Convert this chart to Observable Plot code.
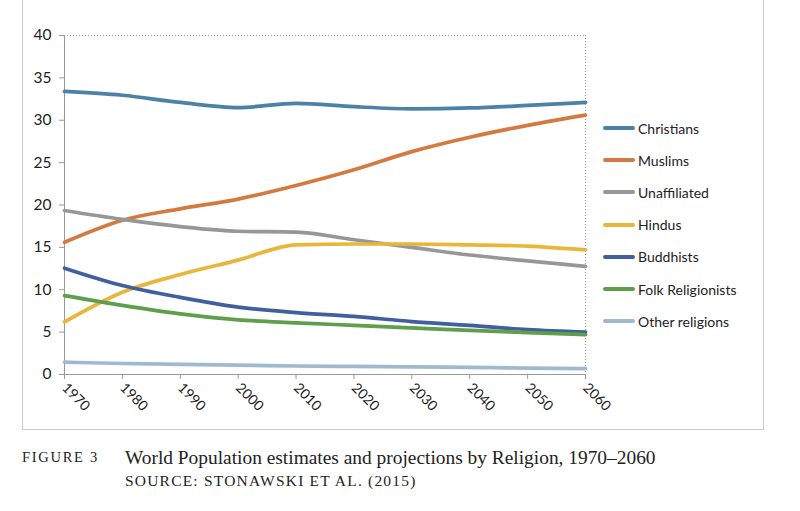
<!DOCTYPE html>
<html><head><meta charset="utf-8">
<script src="https://cdn.jsdelivr.net/npm/d3@7"></script>
<script src="https://cdn.jsdelivr.net/npm/@observablehq/plot@0.6"></script>
<style>
body{margin:0;background:#fff;width:800px;height:511px;position:relative;overflow:hidden;font-family:Lato,"Open Sans",sans-serif}
#frame{position:absolute;left:22px;top:-2px;width:740px;height:431px;border:1.5px solid #cbcbcb;border-top:none;}
#chart{position:absolute;left:0;top:0}
#legend{position:absolute;left:603px;top:112px;font-size:14px;color:#222}
.row{height:32.2px;display:flex;align-items:center}
.sw{display:inline-block;width:32px;height:4px;border-radius:2px;margin-right:3px}
.cap{position:absolute;font-family:"Liberation Serif","DejaVu Serif",serif;color:#222;white-space:nowrap}
</style></head>
<body>
<div id="frame"></div>
<div id="chart"></div>
<div id="legend"></div>
<div class="cap" style="left:22px;top:449px;font-size:14.5px;letter-spacing:1.7px">FIGURE 3</div>
<div class="cap" style="left:125px;top:447px;font-size:19.4px">World Population estimates and projections by Religion, 1970–2060</div>
<div class="cap" style="left:125px;top:472px;font-size:15.5px;letter-spacing:1.2px">SOURCE: STONAWSKI ET AL. (2015)</div>
<script>
const years = [1970,1980,1990,2000,2010,2020,2030,2040,2050,2060];
const yTicks = [0,5,10,15,20,25,30,35,40];
const religions = ["Christians","Muslims","Unaffiliated","Hindus","Buddhists","Folk Religionists","Other religions"];
const colors = ["#4c82a8","#d6793f","#979797","#e8b63a","#3f5f9e","#5f9e4b","#9fbad0"];
const christians    = [33.4,32.95,32.1,31.5,32.0,31.6,31.35,31.45,31.75,32.1];
const muslims       = [15.6,18.2,19.55,20.7,22.3,24.15,26.3,28.0,29.4,30.6];
const unaffiliated  = [19.35,18.3,17.45,16.9,16.8,15.9,15.0,14.1,13.4,12.75];
const hindus        = [6.2,9.7,11.8,13.5,15.3,15.4,15.4,15.3,15.15,14.7];
const buddhists     = [12.55,10.5,9.1,7.95,7.3,6.85,6.25,5.8,5.3,5.0];
const folk          = [9.3,8.15,7.15,6.45,6.1,5.8,5.5,5.2,4.95,4.7];
const other         = [1.45,1.3,1.2,1.1,1.0,0.95,0.9,0.85,0.75,0.7];
const series = [christians,muslims,unaffiliated,hindus,buddhists,folk,other];

const data = [];
series.forEach((vals,i)=>vals.forEach((v,j)=>data.push({religion:religions[i],year:years[j],value:v})));

const chart = Plot.plot({
  width:800, height:430,
  marginLeft:64, marginRight:215, marginTop:35, marginBottom:56,
  style:{fontFamily:"Lato, 'Open Sans', sans-serif", color:"#1e1e1e", background:"transparent"},
  x:{domain:[1970,2060]},
  y:{domain:[0,40]},
  color:{domain:religions, range:colors},
  marks:[
    Plot.ruleY([40],{stroke:"#999",strokeDasharray:"1,2",strokeWidth:1}),
    Plot.ruleX([2060],{stroke:"#999",strokeDasharray:"1,2",strokeWidth:1}),
    Plot.ruleX([1970],{stroke:"#9a9a9a",strokeWidth:1}),
    Plot.ruleY([0],{stroke:"#9a9a9a",strokeWidth:1}),
    Plot.axisY(yTicks,{tickSize:5,tickPadding:8,fontSize:15.5,stroke:"#9a9a9a",label:null}),
    Plot.axisX(years,{tickSize:5,tickPadding:6,tickRotate:45,fontSize:14,stroke:"#9a9a9a",label:null,tickFormat:d=>String(d)}),
    Plot.line(data,{x:"year",y:"value",z:"religion",stroke:"religion",strokeWidth:3.7,curve:"monotone-x",strokeLinecap:"round"})
  ]
});
document.getElementById("chart").appendChild(chart);

const lg = document.getElementById("legend");
religions.forEach((r,i)=>{
  const row = document.createElement("div"); row.className="row";
  row.innerHTML = `<span class="sw" style="background:${colors[i]}"></span><span>${r}</span>`;
  lg.appendChild(row);
});
</script>
</body></html>
